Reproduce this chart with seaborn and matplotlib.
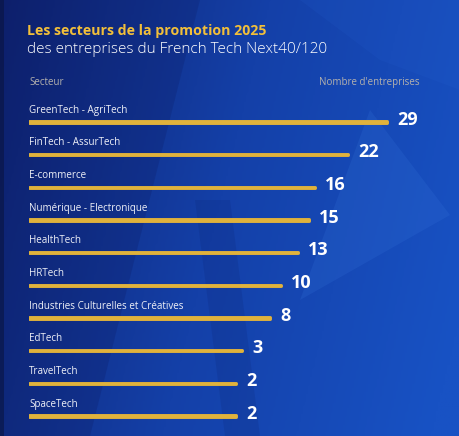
import numpy as np
import pandas as pd
import matplotlib
matplotlib.use("Agg")
import matplotlib.pyplot as plt
import matplotlib.patheffects as pe
from matplotlib.colors import LinearSegmentedColormap
import seaborn as sns

# Secteurs de la promotion 2025 - French Tech Next40/120
sectors = ["GreenTech - AgriTech", "FinTech - AssurTech", "E-commerce",
           "Numérique - Electronique", "HealthTech", "HRTech",
           "Industries Culturelles et Créatives", "EdTech", "TravelTech", "SpaceTech"]
counts = [29, 22, 16, 15, 13, 10, 8, 3, 2, 2]

title = "Les secteurs de la promotion 2025"
subtitle = "des entreprises du French Tech Next40/120"
col_left = "Secteur"
col_right = "Nombre d'entreprises"

# the bars in the original start from a fixed base length
BASE = 35

df = pd.DataFrame({"secteur": sectors, "n": counts})
df["bar"] = df["n"] + BASE

sns.set_theme(style="white")
plt.rcParams["font.family"] = ["Open Sans", "DejaVu Sans"]

W, H = 460, 436
fig = plt.figure(figsize=(W / 100, H / 100), dpi=100)

# background: blue gradient with a few faint geometric shapes
bg = fig.add_axes([0, 0, 1, 1])
cmap = LinearSegmentedColormap.from_list("bg", ["#0f2270", "#1440a8", "#1852c4"])
gx = np.linspace(0, 1, 200)
gy = np.linspace(0, 1, 200)
grad = np.clip(0.85 * gx[None, :] + 0.2 * gy[:, None], 0, 1)
bg.imshow(grad, cmap=cmap, extent=(0, W, H, 0), aspect="auto")
shapes = [
    ([(370, 110), (450, 215), (300, 300)], "#3a7ae0", 0.18),
    ([(0, 0), (200, 0), (90, 436), (0, 436)], "#08165a", 0.2),
    ([(195, 200), (230, 200), (260, 436), (225, 436)], "#0a1d66", 0.15),
    ([(300, 0), (460, 0), (460, 90), (380, 60)], "#2a66d8", 0.12),
]
for pts, col, a in shapes:
    bg.add_patch(plt.Polygon(pts, closed=True, color=col, alpha=a, lw=0))
bg.add_patch(plt.Rectangle((0, 0), 4, H, color="#0a1440", alpha=0.6, lw=0))
bg.set_xlim(0, W)
bg.set_ylim(H, 0)
bg.axis("off")

# chart axes mapped to pixel positions of the reference
x0 = 29
px_per_unit = 5.6
y_first, y_step = 122, 32.67
ax = fig.add_axes([x0 / W, 0, 1 - x0 / W, 1])
ax.patch.set_alpha(0)
sns.barplot(data=df, x="bar", y="secteur", orient="h", color="#e0b23c",
            width=0.04, saturation=1, ax=ax)
for p in ax.patches:
    p.set_edgecolor("#e0b23c")
    p.set_linewidth(2.1)
    p.set_joinstyle("round")
    p.set_path_effects([pe.SimplePatchShadow(offset=(0.6, -1.2), alpha=0.35, shadow_rgbFace="#000000"),
                        pe.Normal()])

ax.set_xlim(0, (W - x0) / px_per_unit)
ax.set_ylim(len(sectors) - 1 + (H - y_first - (len(sectors) - 1) * y_step) / y_step,
            -y_first / y_step)

for i, row in df.iterrows():
    ax.text(0, i - 0.29, row["secteur"], color="#eef0f7", fontsize=7.1,
            va="baseline", ha="left")
    ax.text(row["bar"] + 1.8, i - 0.07, str(row["n"]), color="white",
            fontsize=13, fontweight="bold", va="center", ha="left")

ax.set_xlabel("")
ax.set_ylabel("")
ax.set_xticks([])
ax.set_yticks([])
sns.despine(ax=ax, left=True, bottom=True)

fig.text(27 / W, 1 - 35 / H, title, color="#f2bf3a", fontsize=10.2,
         fontweight="bold", va="baseline", ha="left")
fig.text(27 / W, 1 - 53 / H, subtitle, color="white", fontsize=11,
         fontweight="light", va="baseline", ha="left")
fig.text(29 / W, 1 - 85 / H, col_left, color="#b4b1ad", fontsize=7,
         va="baseline", ha="left")
fig.text(420 / W, 1 - 85 / H, col_right, color="#b4b1ad", fontsize=7,
         va="baseline", ha="right")

fig.savefig("out.png", dpi=100)
